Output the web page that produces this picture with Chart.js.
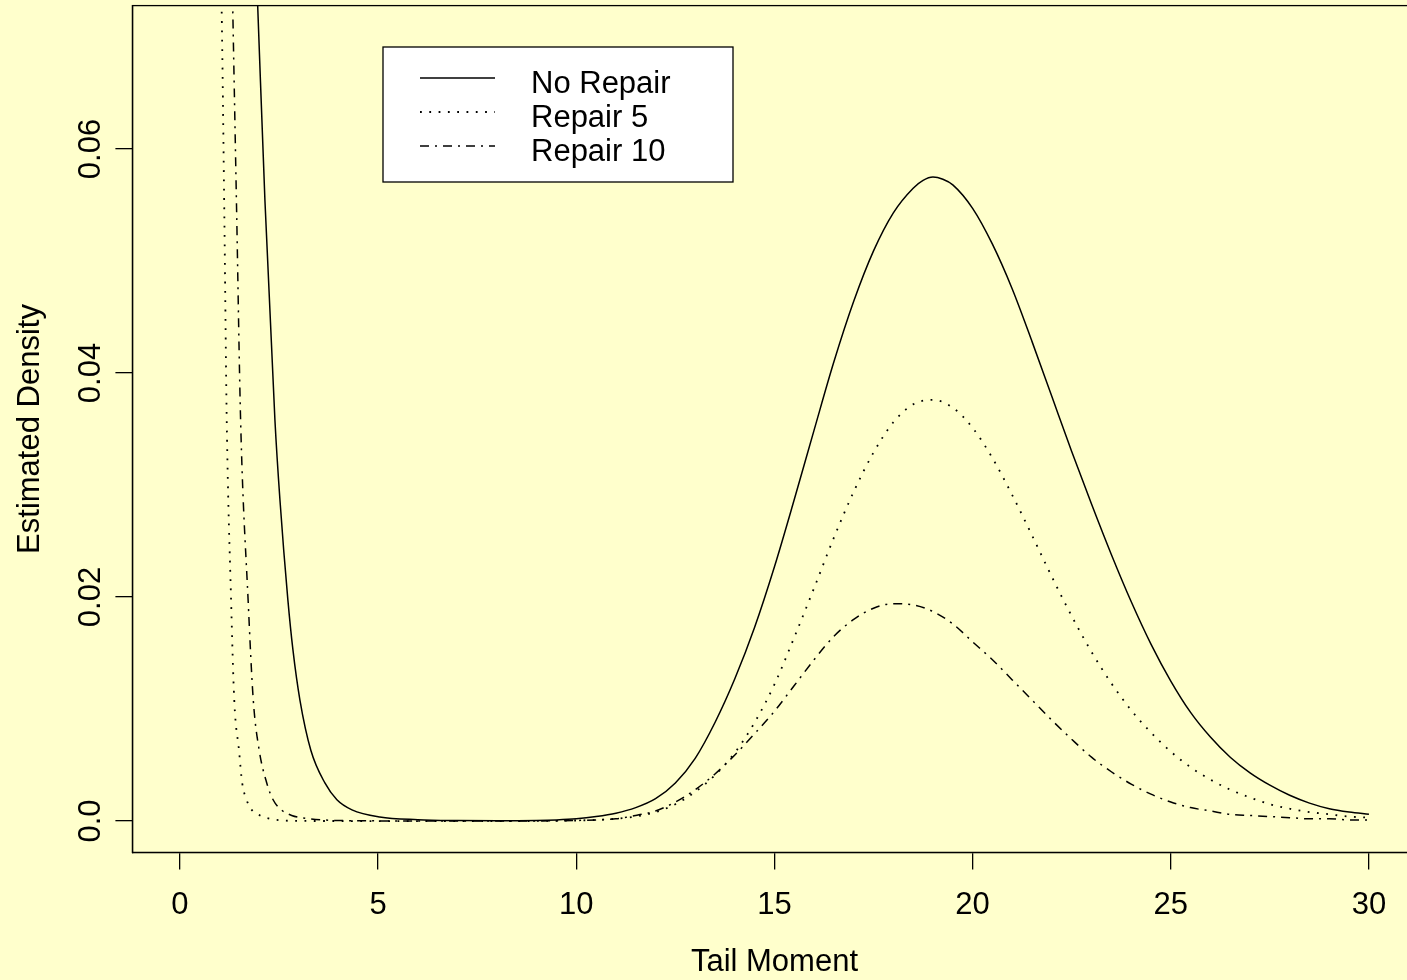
<!DOCTYPE html>
<html>
<head>
<meta charset="utf-8">
<script src="https://cdn.jsdelivr.net/npm/chart.js@4"></script>
<style>
  html, body { margin: 0; padding: 0; background: #FFFFCC; overflow: hidden; }
  #wrap { width: 1420px; height: 980px; }
</style>
</head>
<body>
<div id="wrap"><canvas id="densityChart"></canvas></div>
<script>
// values (Tail Moment vs estimated density)
const seriesLabels = ['No Repair', 'Repair 5', 'Repair 10'];

const noRepairX = [1.85, 1.96, 2.144, 2.396, 2.522, 2.724, 2.85, 3.027, 3.304, 3.657, 3.96, 4.34, 5.04, 6.0, 7.0, 8.0, 9.0, 9.5,
    10.0, 10.5, 11.0, 11.5, 12.0, 12.5, 13.0, 13.5, 14.0, 14.5, 15.0, 15.5, 16.0, 16.5, 17.0, 17.5, 18.0, 18.5, 18.75, 19.0, 19.25, 19.5,
    20.0, 20.5, 21.0, 21.5, 22.0, 22.5, 23.0, 23.5, 24.0, 24.5, 25.0, 25.5, 26.0, 26.5, 27.0, 27.5, 28.0, 28.5, 29.0, 29.5, 30.0];
const noRepairY = [0.083, 0.0729, 0.0554, 0.0358, 0.0287, 0.0197, 0.0153, 0.0108, 0.0063, 0.0034, 0.0019, 0.001, 0.00036, 0.00012, 0.00004, 0.00002, 0.00005, 0.0001,
    0.0002, 0.0004, 0.0007, 0.0012, 0.002, 0.0034, 0.0056, 0.0088, 0.0127, 0.0173, 0.0227, 0.0287, 0.0349, 0.041, 0.0464, 0.0509, 0.0543, 0.0565, 0.0572, 0.0575, 0.0573, 0.0568,
    0.0547, 0.0515, 0.0475, 0.0428, 0.0379, 0.033, 0.0283, 0.0238, 0.0196, 0.0158, 0.0125, 0.0097, 0.0075, 0.0057, 0.0043, 0.0032, 0.0023, 0.0016, 0.0011, 0.0008, 0.0006];

const repair5X = [0.95, 1.05, 1.12, 1.18, 1.29, 1.37, 1.49, 1.57, 1.68, 1.81, 2.02, 2.27, 2.6, 3.0, 5.0, 8.0, 9.5,
    10.0, 10.5, 11.0, 11.5, 12.0, 12.5, 13.0, 13.5, 14.0, 14.5, 15.0, 15.5, 16.0, 16.5, 17.0, 17.5, 18.0, 18.5, 19.0, 19.5,
    20.0, 20.5, 21.0, 21.5, 22.0, 22.5, 23.0, 23.5, 24.0, 24.5, 25.0, 25.5, 26.0, 26.5, 27.0, 27.5, 28.0, 28.5, 29.0, 29.5, 30.0];
const repair5Y = [0.088, 0.0729, 0.054, 0.0358, 0.0197, 0.0108, 0.0063, 0.0034, 0.0019, 0.001, 0.0005, 0.0002, 0.00005, 0.00001, 0.0, 0.0, 0.00002,
    0.00005, 0.0001, 0.0002, 0.0004, 0.0008, 0.0015, 0.0026, 0.0041, 0.0061, 0.0088, 0.0122, 0.0164, 0.0208, 0.0253, 0.0294, 0.0329, 0.0356, 0.0372, 0.0376, 0.0369,
    0.0351, 0.0324, 0.0291, 0.0255, 0.0218, 0.0183, 0.0151, 0.0123, 0.0099, 0.0079, 0.0062, 0.0048, 0.0037, 0.0028, 0.0021, 0.0015, 0.0011, 0.0008, 0.0006, 0.0004, 0.0003];

const repair10X = [1.25, 1.33, 1.43, 1.53, 1.72, 1.85, 2.0, 2.19, 2.35, 2.56, 2.82, 3.28, 4.0, 6.0, 8.0, 9.5,
    10.0, 10.5, 11.0, 11.5, 12.0, 12.5, 13.0, 13.5, 14.0, 14.5, 15.0, 15.5, 16.0, 16.5, 17.0, 17.5, 18.0, 18.5, 19.0, 19.5,
    20.0, 20.5, 21.0, 21.5, 22.0, 22.5, 23.0, 23.5, 24.0, 24.5, 25.0, 25.5, 26.0, 26.5, 27.0, 27.5, 28.0, 28.5, 29.0, 29.5, 30.0];
const repair10Y = [0.088, 0.0729, 0.0544, 0.0358, 0.0197, 0.0108, 0.0063, 0.0034, 0.0019, 0.001, 0.0005, 0.0002, 0.00005, 0.00001, 0.00001, 0.00002,
    0.00005, 0.0001, 0.0002, 0.0005, 0.0009, 0.0017, 0.0028, 0.0042, 0.0059, 0.0078, 0.0098, 0.0121, 0.0144, 0.0165, 0.018, 0.019, 0.0194, 0.0193, 0.0187, 0.0176,
    0.016, 0.0144, 0.0126, 0.0108, 0.009, 0.0073, 0.0057, 0.0044, 0.0033, 0.0024, 0.0017, 0.0012, 0.0009, 0.0006, 0.0005, 0.0004, 0.0003, 0.0002, 0.0002, 0.0001, 0.0001];

const xTicks = [0, 5, 10, 15, 20, 25, 30];
const yTicks = [0, 0.02, 0.04, 0.06];
const yTickLabels = ['0.0', '0.02', '0.04', '0.06'];

const FONT = '"Liberation Sans", Arial, Helvetica, sans-serif';
const FONT_SIZE = 31;

function toPoints(xs, ys) {
    return xs.map((x, i) => ({ x: x, y: ys[i] }));
}

// box round the plot, rotated y labels and the legend, R style
const rDecor = {
    id: 'rDecor',
    beforeDraw(chart) {
        const ctx = chart.ctx;
        ctx.save();
        ctx.fillStyle = '#FFFFCC';
        ctx.fillRect(0, 0, chart.width, chart.height);
        ctx.restore();
    },
    afterDraw(chart) {
        const ctx = chart.ctx;
        const a = chart.chartArea;
        const yScale = chart.scales.y;
        ctx.save();
        ctx.strokeStyle = '#000';
        ctx.lineWidth = 1.3;
        ctx.strokeRect(a.left, a.top, a.right - a.left, a.bottom - a.top);

        ctx.fillStyle = '#000';
        ctx.font = FONT_SIZE + 'px ' + FONT;
        ctx.textAlign = 'center';
        ctx.textBaseline = 'middle';
        yTicks.forEach((v, i) => {
            ctx.save();
            ctx.translate(91, yScale.getPixelForValue(v));
            ctx.rotate(-Math.PI / 2);
            ctx.fillText(yTickLabels[i], 0, 0);
            ctx.restore();
        });

        // legend
        const bx = 383, by = 47, bw = 350, bh = 135;
        ctx.fillStyle = '#fff';
        ctx.fillRect(bx, by, bw, bh);
        ctx.strokeRect(bx, by, bw, bh);
        chart.data.datasets.forEach((ds, i) => {
            const ly = 78 + i * 34;
            ctx.save();
            ctx.strokeStyle = '#000';
            ctx.lineWidth = ds.borderWidth;
            ctx.setLineDash(ds.borderDash || []);
            ctx.beginPath();
            ctx.moveTo(420, ly);
            ctx.lineTo(495, ly);
            ctx.stroke();
            ctx.restore();
            ctx.fillStyle = '#000';
            ctx.textAlign = 'left';
            ctx.textBaseline = 'middle';
            ctx.fillText(ds.label, 531, ly + 6);
        });
        ctx.restore();
    }
};

const ctx = document.getElementById('densityChart').getContext('2d');
new Chart(ctx, {
    type: 'scatter',
    data: {
        datasets: [{
            label: seriesLabels[0],
            data: toPoints(noRepairX, noRepairY),
            borderColor: '#000',
            borderWidth: 1.5,
            borderDash: []
        }, {
            label: seriesLabels[1],
            data: toPoints(repair5X, repair5Y),
            borderColor: '#000',
            borderWidth: 1.8,
            borderDash: [1.8, 7.5]
        }, {
            label: seriesLabels[2],
            data: toPoints(repair10X, repair10Y),
            borderColor: '#000',
            borderWidth: 1.5,
            borderDash: [9, 6, 2, 6]
        }]
    },
    options: {
        responsive: true,
        maintainAspectRatio: false,
        animation: false,
        showLine: true,
        layout: { padding: { top: 5.6, right: 3.5, left: 0, bottom: 0 } },
        elements: {
            point: { radius: 0, hoverRadius: 0 },
            line: { cubicInterpolationMode: 'monotone', fill: false }
        },
        plugins: {
            legend: { display: false },
            tooltip: { enabled: false }
        },
        scales: {
            x: {
                type: 'linear',
                min: -1.2,
                max: 31.2,
                afterBuildTicks: s => { s.ticks = xTicks.map(v => ({ value: v })); },
                afterFit: s => { s.height = 127.6; },
                grid: { display: true, drawOnChartArea: false, drawTicks: true, tickLength: 17, color: '#000', lineWidth: 1.3 },
                border: { display: true, color: '#000', width: 1.3 },
                ticks: {
                    autoSkip: false, maxRotation: 0, padding: 17, color: '#000',
                    font: { family: FONT, size: FONT_SIZE },
                    callback: v => String(v)
                },
                title: {
                    display: true, text: 'Tail Moment', color: '#000',
                    font: { family: FONT, size: FONT_SIZE, lineHeight: 1.1 }, padding: { top: 0, bottom: 0 }
                }
            },
            y: {
                type: 'linear',
                min: -0.0028,
                max: 0.0728,
                afterBuildTicks: s => { s.ticks = yTicks.map(v => ({ value: v })); },
                afterFit: s => { s.width = 132.4; },
                grid: { display: true, drawOnChartArea: false, drawTicks: true, tickLength: 17, color: '#000', lineWidth: 1.3 },
                border: { display: true, color: '#000', width: 1.3 },
                ticks: { display: false },
                title: {
                    display: true, text: 'Estimated Density', color: '#000',
                    font: { family: FONT, size: FONT_SIZE }, padding: { top: 12, bottom: 0 }
                }
            }
        }
    },
    plugins: [rDecor]
});
</script>
</body>
</html>
